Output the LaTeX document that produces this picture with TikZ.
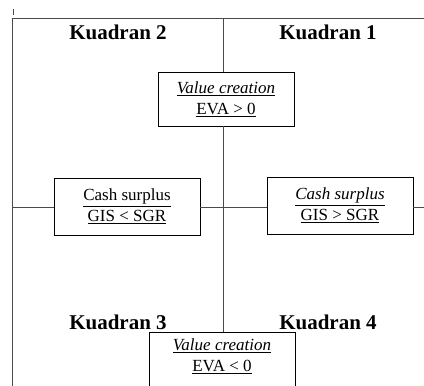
\documentclass[tikz,border=0pt]{standalone}
\usepackage{fontspec}
\setmainfont{Liberation Serif}
\definecolor{linec}{HTML}{4A4A4A}
\newcommand{\ulbox}[1]{\tikz[baseline=(ut.base)]{\node[inner sep=0pt] (ut) {#1};\draw[line width=0.9pt] ([yshift=-2.6pt]ut.south west) -- ([yshift=-2.6pt]ut.south east);}}
\tikzset{
  quad/.style={font=\bfseries\fontsize{21}{25}\selectfont, anchor=base, inner sep=0pt},
  boxnode/.style={draw=black, line width=0.9pt, fill=white, minimum width=#1, inner sep=0pt, align=center, font=\fontsize{17}{21}\selectfont},
  axis/.style={draw=linec, line width=1pt},
}
\begin{document}
\begin{tikzpicture}[x=1pt,y=-1pt]
\useasboundingbox (0,0) rectangle (424,386);
\clip (0,0) rectangle (424,386);
% header text
\node[quad] (k2) at (118,39.5) {Kuadran 2};
\node[quad] (k1) at (328,39.5) {Kuadran 1};
\node[quad] (k3) at (118,329) {Kuadran 3};
\node[quad] (k4) at (328,329) {Kuadran 4};
% boxes
\node[boxnode=136, minimum height=54] (top) at (226,99)
  {\underline{\textit{Value creation}}\\\underline{EVA > 0}};
\node[boxnode=146, minimum height=57] (left) at (127,206.5)
  {\underline{Cash surplus}\\\underline{GIS < SGR}};
\node[boxnode=146, minimum height=57] (right) at (340,205.5)
  {\underline{\textit{Cash surplus}}\\\underline{GIS > SGR}};
\node[draw=black, line width=0.9pt, minimum width=146, minimum height=80, anchor=north, inner sep=0pt] (bot) at (222,332) {};
\node[align=center, anchor=north, inner sep=0pt, font=\fontsize{17}{21}\selectfont] (bottext) at ([yshift=-7]bot.north)
  {\underline{\textit{Value creation}}\\\underline{EVA < 0}};
% frame coordinates
\coordinate (tick1) at (13,9);
\coordinate (tick2) at (13,15);
\coordinate (tl) at (12,18);
\coordinate (tr) at (424,18);
\coordinate (bl) at (12,390);
\coordinate (tc) at (223,18);
\coordinate (ml) at (12,207);
\coordinate (mr) at (424,207);
% lines
\draw[axis, line width=0.7pt] (tick1) -- (tick2);
\draw[axis] (tl) -- (tr);
\draw[axis] (tl) -- (bl);
\draw[axis] (tc) -- (tc |- top.north);
\draw[axis] (tc |- top.south) -- (tc |- bot.north);
\draw[axis] (ml) -- (left.west |- ml);
\draw[axis] (left.east |- ml) -- (right.west |- ml);
\draw[axis] (right.east |- ml) -- (mr);
\end{tikzpicture}
\end{document}
